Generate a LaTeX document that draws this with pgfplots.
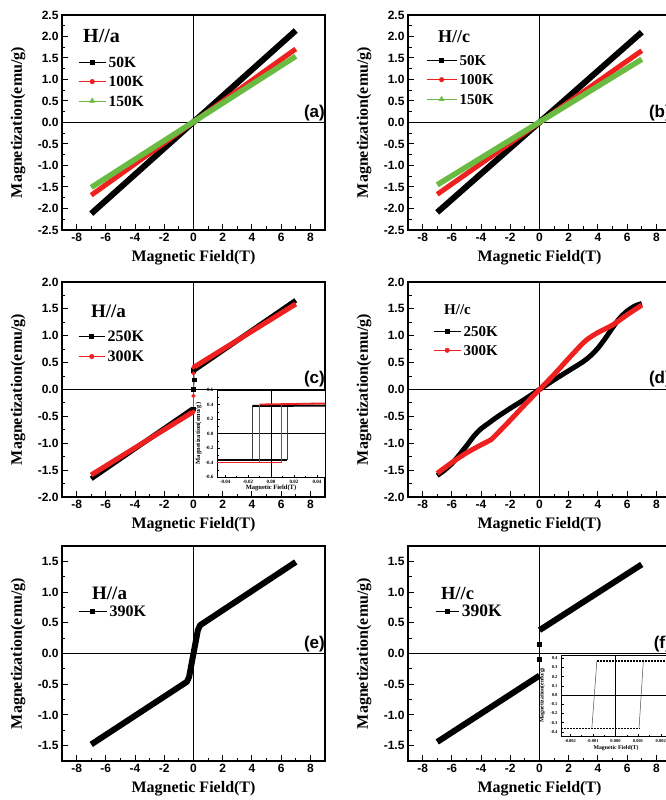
\documentclass[border=0pt]{standalone}
\usepackage{fontspec}
\setmainfont{Liberation Serif}
\setsansfont{Liberation Sans}
\usepackage{pgfplots}
\pgfplotsset{compat=1.18}
\definecolor{mygreen}{RGB}{105,188,65}
\definecolor{myred}{RGB}{238,32,32}

\pgfplotsset{
  mainax/.style={
    scale only axis, width=263pt, height=215pt,
    anchor=north west,
    xmin=-9, xmax=9,
    xtick={-8,-6,-4,-2,0,2,4,6,8},
    minor x tick num=1, minor y tick num=1,
    tick align=inside, tick pos=left,
    major tick length=6pt, minor tick length=3.5pt,
    axis line style={line width=1.2pt},
    every tick/.append style={black, line width=1pt},
    /pgf/number format/assume math mode=true,
    tick label style={font=\fontsize{12}{12}\selectfont\sffamily\bfseries},
    yticklabel style={/pgf/number format/fixed, /pgf/number format/fixed zerofill, /pgf/number format/precision=1},
    xlabel={Magnetic Field(T)}, ylabel={Magnetization(emu/g)},
    label style={font=\fontsize{16}{16}\selectfont\bfseries},
    xlabel style={at={(axis description cs:0.5,-0.130)}, anchor=center},
    ylabel style={at={(axis description cs:-0.167,0.5)}, anchor=center},
    legend cell align=left,
    legend style={draw=none, fill=none, inner sep=0pt, anchor=north west,
      nodes={inner sep=0pt, text depth=0pt}, column sep=2.5pt},
    clip=false,
  },
  inax/.style={
    scale only axis, anchor=north west,
    tick align=inside, tick pos=left,
    minor x tick num=1, minor y tick num=1,
    major tick length=2.5pt, minor tick length=1.5pt,
    axis line style={line width=0.6pt},
    every tick/.append style={black, line width=0.4pt},
    axis background/.style={fill=white},
    scaled x ticks=false, scaled y ticks=false,
    /pgf/number format/assume math mode=true,
    xticklabel style={/pgf/number format/fixed, /pgf/number format/fixed zerofill},
    yticklabel style={/pgf/number format/fixed, /pgf/number format/fixed zerofill, /pgf/number format/precision=1},
    xlabel={Magnetic Field(T)}, ylabel={Magnetization(emu/g)},
    clip=false,
  },
}
\newcommand{\zerolines}[3]{%
  \draw[line width=0.7pt] (axis cs:0,#1) -- (axis cs:0,#2);
  \draw[line width=0.7pt] (axis cs:-#3,0) -- (axis cs:#3,0);}

\begin{document}
\begin{tikzpicture}
\useasboundingbox (0pt,0pt) rectangle (666pt,-800pt);

% ---------------- (a)
\begin{axis}[mainax, at={(62pt,-15pt)}, ymin=-2.5, ymax=2.5,
  ytick={-2.5,-2,-1.5,-1,-0.5,0,0.5,1,1.5,2,2.5},
  legend style={at={(axis description cs:0.061,0.805)}, row sep=9pt,
    font=\fontsize{15.5}{15.5}\selectfont\bfseries, nodes={text height=10.3pt}},
  legend image code/.code={\draw[mark repeat=2,mark phase=2,#1] plot coordinates {(0pt,0pt) (13.5pt,0pt) (27pt,0pt)};}]
\zerolines{-2.5}{2.5}{9}
\addplot[black, line width=6pt, forget plot] coordinates {(-7,-2.12) (7,2.14)};
\addplot[myred, line width=5pt, forget plot] coordinates {(-7,-1.69) (7,1.71)};
\addplot[mygreen, line width=5.5pt, forget plot] coordinates {(-7,-1.51) (7,1.54)};
\addlegendimage{black, line width=1pt, mark=square*, mark size=2pt}
\addlegendentry{50K}
\addlegendimage{myred, line width=0.6pt, mark=*, mark size=2.2pt}
\addlegendentry{100K}
\addlegendimage{mygreen, line width=0.6pt, mark=triangle*, mark size=2.8pt}
\addlegendentry{150K}
\node[anchor=base west, inner sep=0pt, font=\fontsize{20}{20}\selectfont\bfseries] at (axis description cs:0.080,0.870) {H//a};
\node[anchor=south east, inner sep=0pt, font=\fontsize{17}{17}\selectfont\sffamily\bfseries] at (axis cs:9,0.03) {(a)};
\end{axis}

% ---------------- (b)
\begin{axis}[mainax, at={(408pt,-15pt)}, ymin=-2.5, ymax=2.5,
  ytick={-2.5,-2,-1.5,-1,-0.5,0,0.5,1,1.5,2,2.5},
  legend style={at={(axis description cs:0.068,0.814)}, row sep=9.5pt,
    font=\fontsize{15}{15}\selectfont\bfseries, nodes={text height=10pt}},
  legend image code/.code={\draw[mark repeat=2,mark phase=2,#1] plot coordinates {(0pt,0pt) (15pt,0pt) (30pt,0pt)};}]
\zerolines{-2.5}{2.5}{9}
\addplot[black, line width=6pt, forget plot] coordinates {(-7,-2.09) (7,2.10)};
\addplot[myred, line width=5pt, forget plot] coordinates {(-7,-1.67) (7,1.67)};
\addplot[mygreen, line width=5.5pt, forget plot] coordinates {(-7,-1.45) (7,1.47)};
\addlegendimage{black, line width=1pt, mark=square*, mark size=2pt}
\addlegendentry{50K}
\addlegendimage{myred, line width=0.6pt, mark=*, mark size=2.2pt}
\addlegendentry{100K}
\addlegendimage{mygreen, line width=0.6pt, mark=triangle*, mark size=2.8pt}
\addlegendentry{150K}
\node[anchor=base west, inner sep=0pt, font=\fontsize{18}{18}\selectfont\bfseries] at (axis description cs:0.114,0.870) {H//c};
\node[anchor=south east, inner sep=0pt, font=\fontsize{17}{17}\selectfont\sffamily\bfseries] at (axis cs:9,0.03) {(b)};
\end{axis}

% ---------------- (c)
\begin{axis}[mainax, at={(62pt,-282pt)}, ymin=-2, ymax=2,
  ytick={-2,-1.5,-1,-0.5,0,0.5,1,1.5,2},
  legend style={at={(axis description cs:0.061,0.772)}, row sep=9.4pt,
    font=\fontsize{16}{16}\selectfont\bfseries, nodes={text height=10.6pt}},
  legend image code/.code={\draw[mark repeat=2,mark phase=2,#1] plot coordinates {(0pt,0pt) (13pt,0pt) (26pt,0pt)};}]
\zerolines{-2}{2}{9}
\addplot[black, line width=5pt, forget plot] coordinates {(-7,-1.66) (-0.05,-0.36)};
\addplot[black, line width=5pt, forget plot] coordinates {(0.05,0.36) (7,1.66)};
\addplot[black, line width=0.6pt, mark=square*, mark size=1.8pt, forget plot] coordinates {(0,-0.36) (0,0.0) (0.06,0.18) (0,0.36)};
\addplot[myred, line width=5pt, forget plot] coordinates {(-7,-1.59) (0,-0.41)};
\addplot[myred, line width=5pt, forget plot] coordinates {(0,0.41) (7,1.59)};
\addplot[myred, line width=0.6pt, mark=*, mark size=1.8pt, forget plot] coordinates {(0,-0.41) (0,-0.12) (0,0.3) (0,0.41)};
\addlegendimage{black, line width=1pt, mark=square*, mark size=2pt}
\addlegendentry{250K}
\addlegendimage{myred, line width=0.6pt, mark=*, mark size=2.2pt}
\addlegendentry{300K}
\node[anchor=base west, inner sep=0pt, font=\fontsize{19}{19}\selectfont\bfseries] at (axis description cs:0.110,0.833) {H//a};
\node[anchor=south east, inner sep=0pt, font=\fontsize{17}{17}\selectfont\sffamily\bfseries] at (axis cs:9,0.05) {(c)};
\end{axis}

% inset (c)
\begin{axis}[inax, at={(217pt,-390pt)}, width=108pt, height=87pt,
  xmin=-0.047, xmax=0.047, ymin=-0.6, ymax=0.6,
  xtick={-0.04,-0.02,0,0.02,0.04}, ytick={-0.6,-0.4,-0.2,0,0.2,0.4,0.6},
  xticklabel style={/pgf/number format/precision=2},
  tick label style={font=\fontsize{5}{5}\selectfont\bfseries},
  label style={font=\fontsize{6.5}{6.5}\selectfont\bfseries},
  xlabel style={at={(axis description cs:0.5,-0.125)}, anchor=center},
  ylabel style={at={(axis description cs:-0.17,0.5)}, anchor=center}]
\draw[line width=0.4pt] (axis cs:0,-0.6) -- (axis cs:0,0.6);
\draw[line width=0.4pt] (axis cs:-0.047,0) -- (axis cs:0.047,0);
\addplot[black!75, line width=0.5pt] coordinates {(-0.0162,-0.37) (-0.0162,0.38)};
\addplot[black!75, line width=0.5pt] coordinates {(0.0141,-0.37) (0.0141,0.38)};
\addplot[black, line width=2pt] coordinates {(-0.047,-0.37) (0.0141,-0.37)};
\addplot[black, line width=2pt] coordinates {(-0.0162,0.38) (0.047,0.385)};
\addplot[myred, line width=0.5pt] coordinates {(-0.0100,-0.40) (-0.0100,0.40)};
\addplot[myred, line width=0.5pt] coordinates {(0.0088,-0.40) (0.0088,0.40)};
\addplot[myred, line width=1.8pt] coordinates {(-0.047,-0.40) (0.0088,-0.40)};
\addplot[myred, line width=1.8pt] coordinates {(-0.0100,0.40) (0.047,0.415)};
\end{axis}

% ---------------- (d)
\begin{axis}[mainax, at={(408pt,-282pt)}, ymin=-2, ymax=2,
  ytick={-2,-1.5,-1,-0.5,0,0.5,1,1.5,2},
  legend style={at={(axis description cs:0.095,0.795)}, row sep=9pt,
    font=\fontsize{15}{15}\selectfont\bfseries, nodes={text height=10pt}},
  legend image code/.code={\draw[mark repeat=2,mark phase=2,#1] plot coordinates {(0pt,0pt) (13.5pt,0pt) (27pt,0pt)};}]
\zerolines{-2}{2}{9}
\addplot[black, line width=5pt, smooth, forget plot] coordinates {
  (-7,-1.60) (-6.5,-1.50) (-6,-1.38) (-5.5,-1.22) (-5,-1.05) (-4.5,-0.87) (-4,-0.73)
  (-3.5,-0.63) (-3,-0.53) (-2,-0.35) (-1,-0.18) (0,0) (1,0.18) (2,0.35) (3,0.52)
  (3.5,0.63) (4,0.77) (4.5,0.95) (5,1.15) (5.5,1.33) (6,1.46) (6.5,1.55) (7,1.60)};
\addplot[myred, line width=5pt, smooth, forget plot] coordinates {
  (-7,-1.56) (-6,-1.36) (-5,-1.18) (-4,-1.03) (-3.3,-0.93) (-3,-0.85) (-2,-0.57)
  (-1,-0.28) (0,0) (1,0.28) (2,0.58) (3,0.87) (3.3,0.94) (4,1.06) (5,1.20)
  (6,1.39) (7,1.57)};
\addlegendimage{black, line width=1pt, mark=square*, mark size=2pt}
\addlegendentry{250K}
\addlegendimage{myred, line width=0.6pt, mark=*, mark size=2.2pt}
\addlegendentry{300K}
\node[anchor=base west, inner sep=0pt, font=\fontsize{15}{15}\selectfont\bfseries] at (axis description cs:0.137,0.851) {H//c};
\node[anchor=south east, inner sep=0pt, font=\fontsize{17}{17}\selectfont\sffamily\bfseries] at (axis cs:9,0.05) {(d)};
\end{axis}

% ---------------- (e)
\begin{axis}[mainax, at={(62pt,-546pt)}, ymin=-1.75, ymax=1.75,
  ytick={-1.5,-1,-0.5,0,0.5,1,1.5},
  legend style={at={(axis description cs:0.061,0.722)},
    font=\fontsize{16}{16}\selectfont\bfseries, nodes={text height=10.6pt}},
  legend image code/.code={\draw[mark repeat=2,mark phase=2,#1] plot coordinates {(0pt,0pt) (14pt,0pt) (28pt,0pt)};}]
\zerolines{-1.75}{1.75}{9}
\addplot[black, line width=6pt, line join=round, forget plot] coordinates {
  (-7,-1.48) (-0.45,-0.46) (-0.3,-0.38) (0,0) (0.3,0.38) (0.45,0.46) (7,1.49)};
\addlegendimage{black, line width=1pt, mark=square*, mark size=2pt}
\addlegendentry{390K}
\node[anchor=base west, inner sep=0pt, font=\fontsize{19}{19}\selectfont\bfseries] at (axis description cs:0.114,0.749) {H//a};
\node[anchor=south east, inner sep=0pt, font=\fontsize{17}{17}\selectfont\sffamily\bfseries] at (axis cs:9,0.02) {(e)};
\end{axis}

% ---------------- (f)
\begin{axis}[mainax, at={(408pt,-546pt)}, ymin=-1.75, ymax=1.75,
  ytick={-1.5,-1,-0.5,0,0.5,1,1.5},
  legend style={at={(axis description cs:0.103,0.725)},
    font=\fontsize{17.5}{17.5}\selectfont\bfseries, nodes={text height=11.6pt}},
  legend image code/.code={\draw[mark repeat=2,mark phase=2,#1] plot coordinates {(0pt,0pt) (11.5pt,0pt) (23pt,0pt)};}]
\zerolines{-1.75}{1.75}{9}
\addplot[black, line width=6pt, forget plot] coordinates {(-7,-1.44) (0,-0.36)};
\addplot[black, line width=6pt, forget plot] coordinates {(0,0.38) (7,1.45)};
\addplot[black, only marks, mark=square*, mark size=2pt, forget plot] coordinates {(0,0.15) (0,-0.09)};
\addlegendimage{black, line width=1pt, mark=square*, mark size=2pt}
\addlegendentry{390K}
\node[anchor=base west, inner sep=0pt, font=\fontsize{18.5}{18.5}\selectfont\bfseries] at (axis description cs:0.125,0.749) {H//c};
\node[anchor=south east, inner sep=0pt, font=\fontsize{17}{17}\selectfont\sffamily\bfseries] at (axis cs:9,0.02) {(f)};
\end{axis}

% inset (f)
\begin{axis}[inax, at={(561pt,-655pt)}, width=110pt, height=81pt,
  xmin=-0.0024, xmax=0.00245, ymin=-0.445, ymax=0.435,
  xtick={-0.002,-0.001,0,0.001,0.002}, ytick={-0.4,-0.3,-0.2,-0.1,0,0.1,0.2,0.3,0.4},
  minor y tick num=0,
  xticklabel style={/pgf/number format/precision=3},
  tick label style={font=\fontsize{4.5}{4.5}\selectfont\bfseries},
  label style={font=\fontsize{5.8}{5.8}\selectfont\bfseries},
  xlabel style={at={(axis description cs:0.5,-0.15)}, anchor=center},
  ylabel style={at={(axis description cs:-0.17,0.5)}, anchor=center}]
\draw[line width=0.4pt] (axis cs:0,-0.445) -- (axis cs:0,0.435);
\draw[line width=0.4pt] (axis cs:-0.0024,0) -- (axis cs:0.00245,0);
\addplot[black!70, line width=0.5pt] coordinates {(-0.00104,-0.363) (-0.00082,0.368)};
\addplot[black!70, line width=0.5pt] coordinates {(0.00104,-0.363) (0.00123,0.368)};
\addplot[black, line width=1.6pt, dash pattern=on 2pt off 1pt] coordinates {(-0.00082,0.368) (0.00245,0.368)};
\addplot[black, line width=1.6pt, dash pattern=on 2pt off 1pt] coordinates {(-0.0024,-0.363) (0.00104,-0.363)};
\end{axis}

\end{tikzpicture}
\end{document}
